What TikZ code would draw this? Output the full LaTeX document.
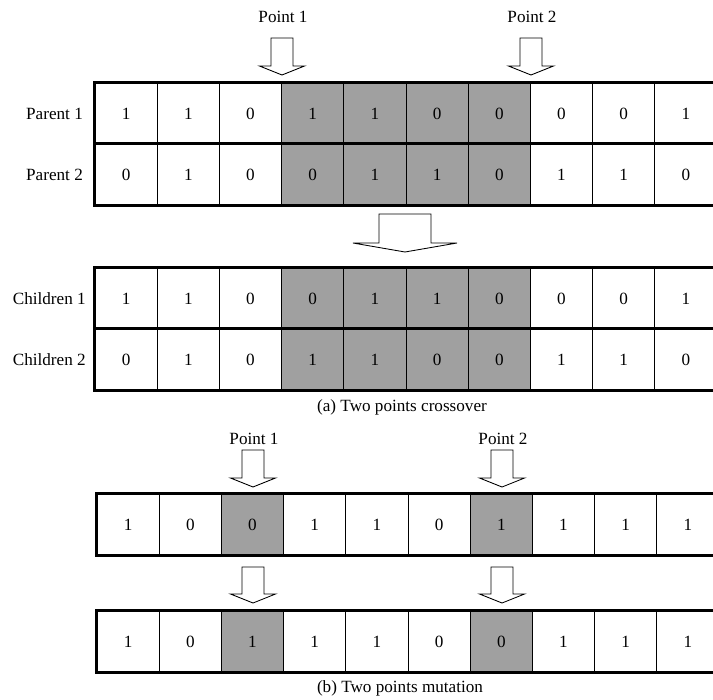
\documentclass[tikz,border=0pt]{standalone}
\usepackage{fontspec}
\setmainfont{Liberation Serif}
\usepackage{xcolor}
\usepackage{tikz}
\usetikzlibrary{positioning}
\definecolor{cellgrey}{RGB}{160,160,160}

% one chromosome: name, left x, top y, list of value/fill
\newcommand{\generow}[4]{%
  \foreach \v/\f [count=\i] in {#4}
    \node[cell, fill=\f] (#1-\i) at ({#2+(\i-0.5)*62.2}, {#3+30.5}) {\v};}
% hollow block arrow: centre x, top, shaft half, wing half, shoulder, tip
\newcommand{\blockarrow}[6]{%
  \draw[hollow] (#1-#3,#2) -- (#1+#3,#2) -- (#1+#3,#5) -- (#1+#4,#5)
    -- (#1,#6) -- (#1-#4,#5) -- (#1-#3,#5) -- cycle;}

\begin{document}
\begin{tikzpicture}[
    x=0.7pt, y=-0.7pt,
    font=\fontsize{12}{14}\selectfont,
    cell/.style={rectangle, draw, line width=0.65pt, inner sep=0pt,
                 minimum width=43.54pt, minimum height=42.7pt},
    border/.style={line width=2.1pt},
    hollow/.style={draw, fill=white, line width=0.6pt},
    rowlabel/.style={inner sep=0pt, anchor=east}
]
    \useasboundingbox (0,0) rectangle (713,699);
    \clip (0,0) rectangle (713,699);

    % (a) crossover - parents
    \generow{par1}{95}{83}{1/white,1/white,0/white,1/cellgrey,1/cellgrey,0/cellgrey,0/cellgrey,0/white,0/white,1/white}
    \generow{par2}{95}{144}{0/white,1/white,0/white,0/cellgrey,1/cellgrey,1/cellgrey,0/cellgrey,1/white,1/white,0/white}
    \draw[border] (par1-1.north west) rectangle (par2-10.south east);
    \draw[border] (par2-1.north west) -- (par2-10.north east);
    \node[rowlabel, left=8pt of par1-1] (lblpar1) {Parent 1};
    \node[rowlabel, left=8pt of par2-1] (lblpar2) {Parent 2};

    \node (cut1) at (283,17) {Point 1};
    \node (cut2) at (532,17) {Point 2};
    \blockarrow{282}{38}{11}{22.5}{66}{75}
    \blockarrow{531}{38}{11}{22.5}{66}{75}

    % big arrow to the children
    \blockarrow{405}{214}{26}{52}{243}{252}

    % (a) crossover - children
    \generow{chd1}{95}{268}{1/white,1/white,0/white,0/cellgrey,1/cellgrey,1/cellgrey,0/cellgrey,0/white,0/white,1/white}
    \generow{chd2}{95}{329}{0/white,1/white,0/white,1/cellgrey,1/cellgrey,0/cellgrey,0/cellgrey,1/white,1/white,0/white}
    \draw[border] (chd1-1.north west) rectangle (chd2-10.south east);
    \draw[border] (chd2-1.north west) -- (chd2-10.north east);
    \node[rowlabel, left=6pt of chd1-1] (lblchd1) {Children 1};
    \node[rowlabel, left=6pt of chd2-1] (lblchd2) {Children 2};

    \node (capa) at (402,407) {(a) Two points crossover};

    % (b) mutation
    \node (mut1) at (254,439) {Point 1};
    \node (mut2) at (503,439) {Point 2};
    \blockarrow{253}{450}{11}{22.5}{478}{487}
    \blockarrow{502}{450}{11}{22.5}{478}{487}

    \generow{old}{97}{494}{1/white,0/white,0/cellgrey,1/white,1/white,0/white,1/cellgrey,1/white,1/white,1/white}
    \draw[border] (old-1.north west) rectangle (old-10.south east);

    \blockarrow{253}{567}{11}{22.5}{594}{603}
    \blockarrow{502}{567}{11}{22.5}{594}{603}

    \generow{new}{97}{611}{1/white,0/white,1/cellgrey,1/white,1/white,0/white,0/cellgrey,1/white,1/white,1/white}
    \draw[border] (new-1.north west) rectangle (new-10.south east);

    \node (capb) at (400,688) {(b) Two points mutation};
\end{tikzpicture}
\end{document}
